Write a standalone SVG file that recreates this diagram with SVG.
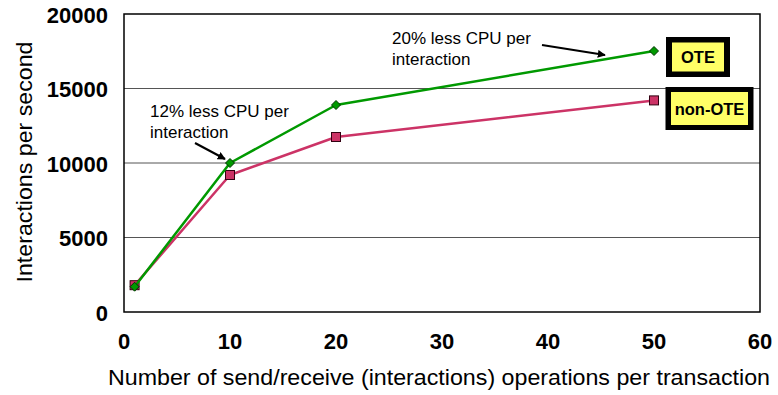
<svg xmlns="http://www.w3.org/2000/svg" width="778" height="395" viewBox="0 0 778 395">
  <defs>
    <style>
      .tick { font-family: "Liberation Sans", Arial, sans-serif; font-weight: bold; font-size: 22px; fill: #000; }
      .title { font-family: "Liberation Sans", Arial, sans-serif; font-size: 22px; fill: #000; }
      .note { font-family: "Liberation Sans", Arial, sans-serif; font-size: 17px; fill: #000; }
      .legend { font-family: "Liberation Sans", Arial, sans-serif; font-weight: bold; font-size: 16.5px; fill: #000; }
      .grid { stroke: #555; stroke-width: 1; }
      .ote { fill: none; stroke: #009900; stroke-width: 2.5; stroke-linejoin: round; }
      .nonote { fill: none; stroke: #cc3366; stroke-width: 2.5; stroke-linejoin: round; }
      .callout { stroke: #000; stroke-width: 2; marker-end: url(#arrow); }
    </style>
    <marker id="arrow" viewBox="0 0 10 10" refX="9" refY="5" markerWidth="4" markerHeight="4" orient="auto" markerUnits="strokeWidth">
      <path d="M0,0 L10,5 L0,10 z" fill="#000"/>
    </marker>
    <path id="diamond" d="M0,-4.5 L4.5,0 L0,4.5 L-4.5,0 z" fill="#009900" stroke="#003300" stroke-width="1"/>
    <rect id="square" x="-4.5" y="-4.5" width="9" height="9" fill="#cc3366" stroke="#330011" stroke-width="1"/>
  </defs>

  <rect width="778" height="395" fill="#fff"/>

  <!-- plot frame and gridlines -->
  <g id="plot-area">
    <line class="grid" x1="124" y1="88.5" x2="760" y2="88.5"/>
    <line class="grid" x1="124" y1="163" x2="760" y2="163"/>
    <line class="grid" x1="124" y1="237.5" x2="760" y2="237.5"/>
    <rect x="124" y="14" width="636" height="298" fill="none" stroke="#000" stroke-width="1.5"/>
  </g>

  <!-- axis tick labels and titles -->
  <g id="y-axis">
    <text class="tick" x="108" y="22.5" text-anchor="end">20000</text>
    <text class="tick" x="108" y="97" text-anchor="end">15000</text>
    <text class="tick" x="108" y="171.5" text-anchor="end">10000</text>
    <text class="tick" x="108" y="246" text-anchor="end">5000</text>
    <text class="tick" x="108" y="320.5" text-anchor="end">0</text>
    <text class="title" transform="translate(31.5,162) rotate(-90)" text-anchor="middle" textLength="241" lengthAdjust="spacingAndGlyphs">Interactions per second</text>
  </g>
  <g id="x-axis">
    <text class="tick" x="124" y="348.5" text-anchor="middle">0</text>
    <text class="tick" x="230" y="348.5" text-anchor="middle">10</text>
    <text class="tick" x="336" y="348.5" text-anchor="middle">20</text>
    <text class="tick" x="442" y="348.5" text-anchor="middle">30</text>
    <text class="tick" x="548" y="348.5" text-anchor="middle">40</text>
    <text class="tick" x="654" y="348.5" text-anchor="middle">50</text>
    <text class="tick" x="760" y="348.5" text-anchor="middle">60</text>
    <text class="title" x="108" y="385" textLength="662" lengthAdjust="spacingAndGlyphs">Number of send/receive (interactions) operations per transaction</text>
  </g>

  <!-- data series -->
  <g id="series-non-ote">
    <polyline class="nonote" points="134.6,285.2 230,175 336,137 654,100.4"/>
    <use href="#square" x="134.6" y="285.2"/>
    <use href="#square" x="230" y="175"/>
    <use href="#square" x="336" y="137"/>
    <use href="#square" x="654" y="100.4"/>
  </g>
  <g id="series-ote">
    <polyline class="ote" points="134.6,286.7 230,163 336,105 654,51"/>
    <use href="#diamond" x="134.6" y="286.7"/>
    <use href="#diamond" x="230" y="163"/>
    <use href="#diamond" x="336" y="105"/>
    <use href="#diamond" x="654" y="51"/>
  </g>

  <!-- legend labels -->
  <g id="legend-ote">
    <rect x="666" y="37" width="64" height="40" fill="#000"/>
    <rect x="672" y="42.5" width="52" height="29" fill="#ffff66"/>
    <text class="legend" x="698" y="63" text-anchor="middle">OTE</text>
  </g>
  <g id="legend-non-ote">
    <rect x="665.5" y="87" width="88" height="43" fill="#000"/>
    <rect x="671" y="92" width="77" height="33" fill="#ffff66"/>
    <text class="legend" x="709.5" y="114.5" text-anchor="middle">non-OTE</text>
  </g>

  <!-- callouts -->
  <g id="note-12">
    <text class="note" x="150" y="117">12% less CPU per</text>
    <text class="note" x="150" y="138">interaction</text>
  </g>
  <g id="note-20">
    <text class="note" x="392" y="44">20% less CPU per</text>
    <text class="note" x="392" y="65">interaction</text>
  </g>
  <g id="connectors">
    <line class="callout" x1="195" y1="143" x2="225" y2="159"/>
    <line class="callout" x1="542" y1="45" x2="605" y2="55"/>
  </g>
</svg>
